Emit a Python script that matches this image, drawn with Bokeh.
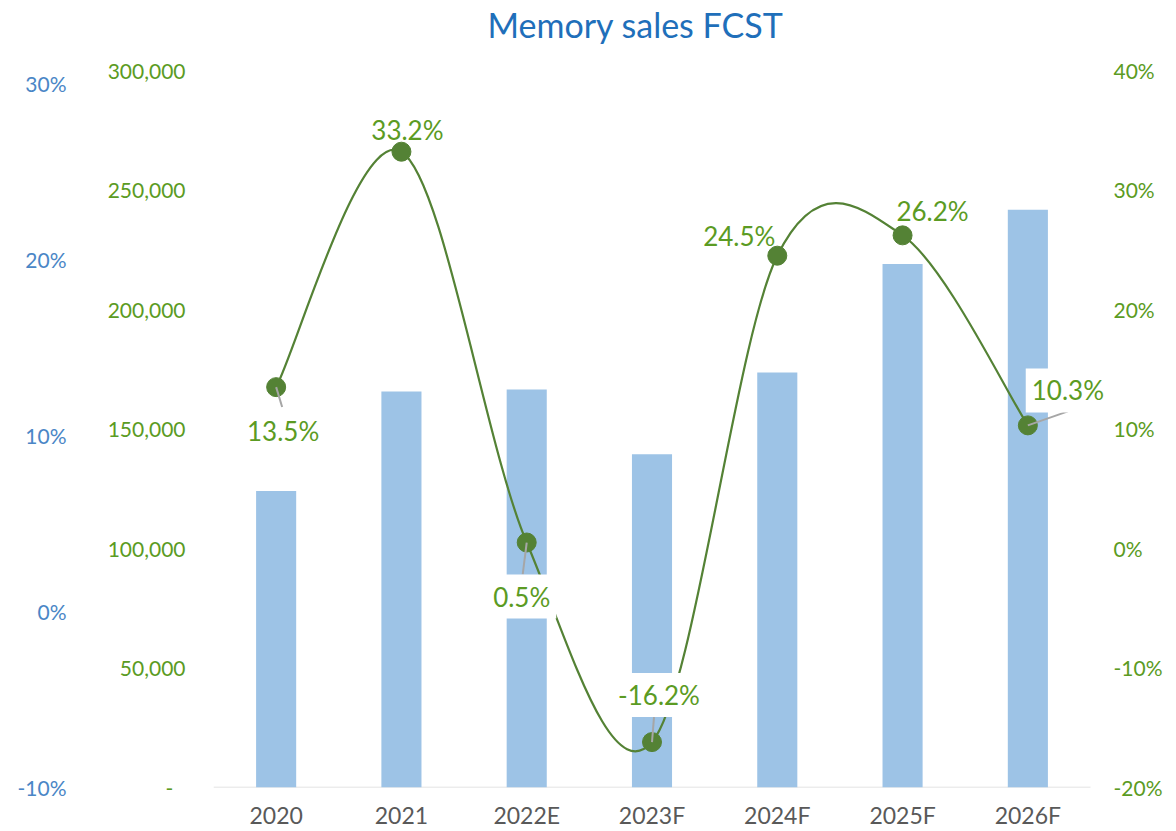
from bokeh.plotting import figure
from bokeh.models import Range1d, LinearAxis, FixedTicker, NumeralTickFormatter, Label
from bokeh.embed import file_html
from bokeh.resources import INLINE

# ---- data ----
categories = ["2020", "2021", "2022E", "2023F", "2024F", "2025F", "2026F"]
sales = [124000, 165700, 166500, 139400, 173600, 219000, 241700]
growth_pct = [13.5, 33.2, 0.5, -16.2, 24.5, 26.2, 10.3]
sales_ticks = [0, 50000, 100000, 150000, 200000, 250000, 300000]
right_ticks_pct = [-20, -10, 0, 10, 20, 30, 40]
blue_ticks_pct = [-10, 0, 10, 20, 30]

# ---- style / geometry ----
W, H = 1176, 831
LEFT, BOTTOM = 213, 42
FRAME_TOP = 44            # top of drawing frame (room for title above)
AXIS_TOP = 70             # where the top ticks sit
AXIS_BOTTOM = 789
BLUE_TOP = 83             # where 30% of the outer blue axis sits
FRAME_RIGHT = 1110
CAT_RIGHT = 1090          # right end of category area
FONT = "Lato"
GREEN_TXT = "#5B9B23"
GREEN_LINE = "#548235"
BLUE_TXT = "#4A86C6"
TITLE_BLUE = "#1F6FBA"
BAR = "#9DC3E6"

n = len(categories)
idx = list(range(n))
growth = [v / 100 for v in growth_pct]

cat_px = (CAT_RIGHT - LEFT) / n
ax_h = AXIS_BOTTOM - AXIS_TOP
extra_top = AXIS_TOP - FRAME_TOP

s_lo, s_hi = sales_ticks[0], sales_ticks[-1]
s_end = s_hi + extra_top * (s_hi - s_lo) / ax_h
r_lo, r_hi = right_ticks_pct[0] / 100, right_ticks_pct[-1] / 100
r_end = r_hi + extra_top * (r_hi - r_lo) / ax_h
b_lo, b_hi = blue_ticks_pct[0] / 100, blue_ticks_pct[-1] / 100
b_per_px = (b_hi - b_lo) / (AXIS_BOTTOM - BLUE_TOP)
b_end = b_hi + (BLUE_TOP - FRAME_TOP) * b_per_px

x_start = -0.5
x_end = n - 0.5 + (FRAME_RIGHT - CAT_RIGHT) / cat_px

p = figure(width=W, height=H, x_range=Range1d(x_start, x_end),
           y_range=Range1d(s_lo, s_end), output_backend="svg", toolbar_location=None,
           min_border_left=LEFT, min_border_right=W - FRAME_RIGHT, min_border_top=FRAME_TOP,
           min_border_bottom=BOTTOM, outline_line_color=None)
p.extra_y_ranges = {"pct": Range1d(r_lo, r_end), "blue": Range1d(b_lo, b_end)}
p.xgrid.visible = False
p.ygrid.visible = False

p.title.text = "Memory sales FCST"
p.title.text_font = FONT
p.title.text_font_size = "34px"
p.title.text_font_style = "normal"
p.title.text_color = TITLE_BLUE
p.title.text_line_height = 0.85
p.title.align = "left"
p.title.offset = 274
p.title.standoff = 0

# x axis (labels only; base line drawn separately to stop at category area)
xa = p.xaxis[0]
xa.ticker = FixedTicker(ticks=idx)
xa.major_label_overrides = {i: c for i, c in zip(idx, categories)}
xa.axis_line_color = None
xa.major_tick_line_color = None
xa.major_tick_out = 0
xa.major_tick_in = 0
xa.minor_tick_line_color = None
xa.major_label_text_font = FONT
xa.major_label_text_font_size = "23px"
xa.major_label_text_color = "#595959"
xa.major_label_standoff = 13

# left (sales) axis
ya = p.yaxis[0]
ya.ticker = FixedTicker(ticks=sales_ticks)
ya.formatter = NumeralTickFormatter(format="0,0")
ya.major_label_overrides = {0: "-\u2007"}
ya.axis_line_color = None
ya.major_tick_line_color = None
ya.major_tick_out = 0
ya.major_tick_in = 0
ya.minor_tick_line_color = None
ya.major_label_text_font = FONT
ya.major_label_text_font_size = "21px"
ya.major_label_text_color = GREEN_TXT
ya.major_label_standoff = 28

# outer blue axis
ba = LinearAxis(y_range_name="blue", ticker=FixedTicker(ticks=[t / 100 for t in blue_ticks_pct]),
                formatter=NumeralTickFormatter(format="0%"))
ba.axis_line_color = None
ba.major_tick_line_color = None
ba.major_tick_out = 0
ba.major_tick_in = 0
ba.minor_tick_line_color = None
ba.major_label_text_font = FONT
ba.major_label_text_font_size = "21px"
ba.major_label_text_color = BLUE_TXT
ba.major_label_standoff = 38
p.add_layout(ba, "left")

# right pct axis
ra = LinearAxis(y_range_name="pct", ticker=FixedTicker(ticks=[t / 100 for t in right_ticks_pct]),
                formatter=NumeralTickFormatter(format="0%"))
ra.axis_line_color = None
ra.major_tick_line_color = None
ra.major_tick_out = 0
ra.major_tick_in = 0
ra.minor_tick_line_color = None
ra.major_label_text_font = FONT
ra.major_label_text_font_size = "21px"
ra.major_label_text_color = GREEN_TXT
ra.major_label_standoff = 3
p.add_layout(ra, "right")

# category base line
p.segment(x0=[x_start], y0=[s_lo], x1=[n - 0.5], y1=[s_lo], line_color="#D9D9D9", line_width=1.5)

# bars
p.vbar(x=idx, top=sales, width=0.32, color=BAR, line_color=None)

# smoothed line (Catmull-Rom -> cubic Bezier)
x0s, y0s, x1s, y1s, cx0s, cy0s, cx1s, cy1s = [], [], [], [], [], [], [], []
for i in range(n - 1):
    a = i - 1 if i > 0 else i
    d = i + 2 if i + 2 < n else i + 1
    x0s.append(idx[i]); y0s.append(growth[i])
    x1s.append(idx[i + 1]); y1s.append(growth[i + 1])
    cx0s.append(idx[i] + (idx[i + 1] - idx[a]) / 6)
    cy0s.append(growth[i] + (growth[i + 1] - growth[a]) / 6)
    cx1s.append(idx[i + 1] - (idx[d] - idx[i]) / 6)
    cy1s.append(growth[i + 1] - (growth[d] - growth[i]) / 6)
p.bezier(x0=x0s, y0=y0s, x1=x1s, y1=y1s, cx0=cx0s, cy0=cy0s, cx1=cx1s, cy1=cy1s,
         y_range_name="pct", line_color=GREEN_LINE, line_width=2.2)

p.scatter(x=idx, y=growth, y_range_name="pct", size=19, fill_color=GREEN_LINE,
          line_color=GREEN_LINE)

# leader lines (pixel deltas from point, screen-down positive)
px_x = 1 / cat_px
px_y = (r_hi - r_lo) / ax_h
leaders = {0: (6, 20), 2: (-4, 32), 3: (2, -25), 6: (40, -14)}
lx0, ly0, lx1, ly1 = [], [], [], []
for i, (dx, dy) in leaders.items():
    lx0.append(idx[i]); ly0.append(growth[i])
    lx1.append(idx[i] + dx * px_x); ly1.append(growth[i] - dy * px_y)
p.segment(x0=lx0, y0=ly0, x1=lx1, y1=ly1, y_range_name="pct", line_color="#A6A6A6",
          line_width=2)

# data labels: offsets (pixels, screen-down positive) and white box flag
label_offsets = [(7, 44), (6, -22), (-5, 54), (7, -47), (-38, -20), (30, -24), (40, -35)]
boxed = [False, False, True, True, False, False, True]
for i, v in enumerate(growth_pct):
    dx, dy = label_offsets[i]
    lab = Label(x=idx[i], y=growth[i], y_range_name="pct", x_offset=dx, y_offset=-dy,
                text=f"{v:.1f}%", text_align="center", text_baseline="middle",
                text_font=FONT, text_font_size="26px", text_color=GREEN_TXT,
                background_fill_color="white" if boxed[i] else None,
                padding=6)
    p.add_layout(lab)

open("out.html", "w").write(file_html(p, INLINE))
